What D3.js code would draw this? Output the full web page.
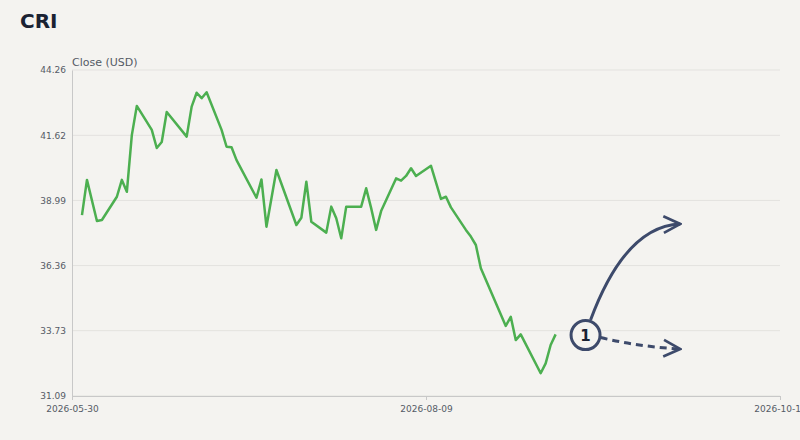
<!DOCTYPE html>
<html>
<head>
<meta charset="utf-8">
<script src="https://cdn.jsdelivr.net/npm/d3@7"></script>
<style>
  body { margin: 0; background: #f4f3f0; }
  svg { font-family: "DejaVu Sans", sans-serif; }
</style>
</head>
<body>
<svg id="chart" width="800" height="440"></svg>
<script>
// day offsets from 2026-05-30 and closing prices
const days = [2,3,5,6,9,10,11,12,13,16,17,18,19,23,24,25,26,27,30,31,32,33,37,38,39,41,45,46,47,48,
  51,52,53,54,55,58,59,60,61,62,65,66,67,68,69,72,74,75,76,79,80,81,82,87,88,89,90,94,95,96,97];
const closes = [38.40,39.82,38.16,38.20,39.14,39.82,39.34,41.63,42.81,41.84,41.11,41.35,42.56,41.57,42.78,43.34,43.12,43.36,
  41.84,41.16,41.14,40.62,39.10,39.84,37.93,40.22,38.00,38.29,39.75,38.13,37.69,38.74,38.27,37.46,38.74,38.74,39.48,38.68,
  37.80,38.56,39.88,39.79,39.98,40.29,39.98,40.39,39.05,39.14,38.71,37.80,37.53,37.19,36.25,33.92,34.29,33.35,33.58,
  32.01,32.41,33.15,33.58];
const yTicks = [31.09, 33.73, 36.36, 38.99, 41.62, 44.26];
const xTickLabels = ["2026-05-30", "2026-08-09", "2026-10-19"];

// scenario annotation (day offset, value)
const marker = { day: 103, value: 33.55, label: "1" };
const upPath = [[104.3, 34.16], [111.9, 37.96], [122, 38.04]];
const downPath = [[106, 33.45], [122, 32.99]];

const start = new Date(2026, 4, 30);
const dayToDate = d => d3.timeDay.offset(start, d);
const data = days.map((d, i) => ({ date: dayToDate(d), close: closes[i] }));

const svg = d3.select("#chart");
const margin = { top: 70, right: 20, bottom: 44, left: 72 };
const W = 800, H = 440;

const x = d3.scaleTime()
  .domain([start, d3.timeParse("%Y-%m-%d")(xTickLabels[2])])
  .range([margin.left, W - margin.right]);
const y = d3.scaleLinear().domain([31.09, 44.26]).range([H - margin.bottom, margin.top]);

svg.append("text").attr("x", 20).attr("y", 28)
  .attr("font-size", 20).attr("font-weight", "bold").attr("fill", "#1a2233").text("CRI");

svg.append("text").attr("x", margin.left).attr("y", 66)
  .attr("font-size", 11).attr("fill", "#555b66").text("Close (USD)");

// grid
svg.append("g").selectAll("line").data(yTicks).join("line")
  .attr("x1", margin.left).attr("x2", W - margin.right)
  .attr("y1", d => y(d)).attr("y2", d => y(d))
  .attr("stroke", "#e3e2df").attr("stroke-width", 1);

// y axis
const gy = svg.append("g").attr("transform", `translate(${margin.left},0)`)
  .call(d3.axisLeft(y).tickValues(yTicks).tickFormat(d3.format(".2f")).tickSize(0).tickPadding(6));
gy.select(".domain").attr("stroke", "#c8c8c8");
gy.selectAll("text").attr("font-size", 9).attr("font-family", "DejaVu Sans").attr("fill", "#555b66");

// x axis
const parse = d3.timeParse("%Y-%m-%d");
const gx = svg.append("g").attr("transform", `translate(0,${H - margin.bottom})`)
  .call(d3.axisBottom(x).tickValues(xTickLabels.map(parse)).tickFormat(d3.timeFormat("%Y-%m-%d")).tickSize(4).tickPadding(6));
gx.select(".domain").attr("stroke", "#c8c8c8");
gx.selectAll(".tick line").attr("stroke", "#c8c8c8");
gx.selectAll("text").attr("font-size", 9).attr("font-family", "DejaVu Sans").attr("fill", "#555b66");

// price line
svg.append("path").datum(data)
  .attr("fill", "none").attr("stroke", "#4caf50").attr("stroke-width", 2.5)
  .attr("stroke-linejoin", "round")
  .attr("d", d3.line().x(d => x(d.date)).y(d => y(d.close)));

// annotation arrows
const navy = "#3d4a6b";
svg.append("defs").append("marker").attr("id", "chev")
  .attr("viewBox", "0 0 12 12").attr("refX", 11).attr("refY", 6)
  .attr("markerWidth", 20).attr("markerHeight", 20).attr("markerUnits", "userSpaceOnUse")
  .attr("orient", "auto")
  .append("path").attr("d", "M1,1 L11,6 L1,11").attr("fill", "none")
  .attr("stroke", navy).attr("stroke-width", 1.6);

const pt = p => [x(dayToDate(p[0])), y(p[1])];
const up = upPath.map(pt);
svg.append("path")
  .attr("d", `M${up[0]} Q${up[1]} ${up[2]}`)
  .attr("fill", "none").attr("stroke", navy).attr("stroke-width", 3)
  .attr("marker-end", "url(#chev)");
const dn = downPath.map(pt);
svg.append("path")
  .attr("d", `M${dn[0]} Q${[(dn[0][0] + dn[1][0]) / 2, dn[1][1] - 2]} ${dn[1]}`)
  .attr("fill", "none").attr("stroke", navy).attr("stroke-width", 3)
  .attr("stroke-dasharray", "7,5").attr("marker-end", "url(#chev)");

const mc = pt([marker.day, marker.value]);
svg.append("circle").attr("cx", mc[0]).attr("cy", mc[1]).attr("r", 14.5)
  .attr("fill", "#f4f3f0").attr("stroke", navy).attr("stroke-width", 3);
svg.append("text").attr("x", mc[0]).attr("y", mc[1] + 5.5).attr("text-anchor", "middle")
  .attr("font-size", 15).attr("font-weight", "bold").attr("fill", "#1a2233").text(marker.label);
</script>
</body>
</html>
